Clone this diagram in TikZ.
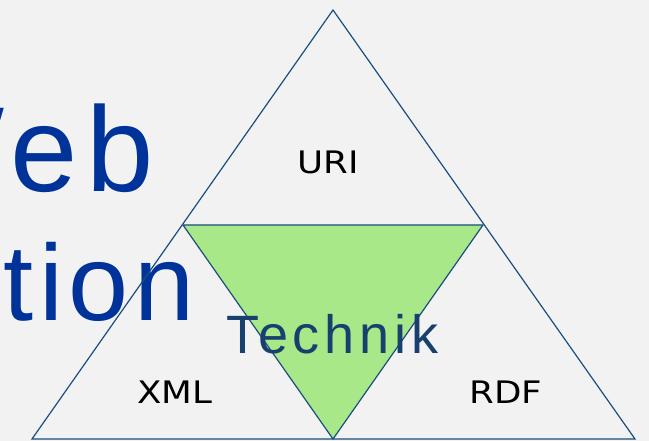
\documentclass[tikz,border=0pt]{standalone}
\usepackage{fontspec}
\setmainfont{Liberation Sans}
\newfontfamily\widesans[LetterSpace=7]{Liberation Sans}
\newfontfamily\midsans[LetterSpace=5.5]{Liberation Sans}
\newfontfamily\techsans[LetterSpace=9]{Liberation Sans}
\newfontfamily\labelsans{DejaVu Sans}
\definecolor{bg}{HTML}{F2F2F2}
\definecolor{titleblue}{HTML}{003399}
\definecolor{edgeblue}{HTML}{1B4D7E}
\definecolor{techblue}{HTML}{17406E}
\definecolor{fillgreen}{HTML}{A8E888}
\tikzset{
  edge/.style={draw=edgeblue, line width=1.2pt, line join=miter},
  bigword/.style={inner sep=0pt, text=titleblue, font=\widesans\fontsize{121}{121}\selectfont},
  midword/.style={inner sep=0pt, text=titleblue, font=\midsans\fontsize{108}{108}\selectfont},
  corner/.style={inner sep=0pt, text=black, xscale=1.15, transform shape, font=\labelsans\fontsize{31}{31}\selectfont},
  techword/.style={inner sep=0pt, text=techblue, font=\techsans\fontsize{54}{54}\selectfont}
}
\begin{document}
\begin{tikzpicture}[x=1pt,y=-1pt]
\useasboundingbox (0,0) rectangle (649,441);
\clip (0,0) rectangle (649,441);
\fill[bg] (0,0) rectangle (649,441);
% title fragments
\node[bigword, anchor=base east] (web) at (154,192) {Web};
\node[midword, anchor=base west] (tion) at (3,320) {tion};
% triangles
\coordinate (apex) at (333,10);
\coordinate (bl) at (32,439);
\coordinate (br) at (635,439);
\coordinate (ml) at (183,225);
\coordinate (mr) at (483,225);
\coordinate (mb) at (333,439);
\path[edge, fill=fillgreen] (ml) -- (mr) -- (mb) -- cycle;
\path[edge] (apex) -- (br) -- (bl) -- cycle;
% labels
\node[corner] (uri) at (328,162) {URI};
\node[corner] (xml) at (175,392) {XML};
\node[corner] (rdf) at (506,392) {RDF};
\node[techword, anchor=base west] (technik) at (226,354) {Technik};
\end{tikzpicture}
\end{document}
